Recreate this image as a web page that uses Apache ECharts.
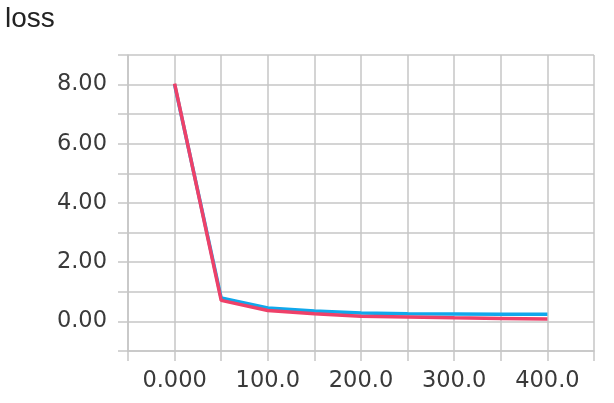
<!DOCTYPE html>
<html><head><meta charset="utf-8">
<script src="https://cdn.jsdelivr.net/npm/echarts@6/dist/echarts.min.js"></script>
<style>html,body{margin:0;padding:0;background:#fff}#c{width:614px;height:403px}</style>
</head><body><div id="c"></div>
<script>
const steps = [0, 50, 100, 150, 200, 250, 300, 350, 400];
const lossBlue = [8.00, 0.79, 0.45, 0.35, 0.28, 0.26, 0.25, 0.24, 0.24];
const lossRed  = [8.03, 0.71, 0.37, 0.26, 0.17, 0.15, 0.12, 0.10, 0.08];
const xTickValues = [0, 100, 200, 300, 400];
const xTickLabels = ['0.000', '100.0', '200.0', '300.0', '400.0'];
const yTickValues = [0, 2, 4, 6, 8];
const yTickLabels = ['0.00', '2.00', '4.00', '6.00', '8.00'];

const gridColor = '#c6c6c6';
const chart = echarts.init(document.getElementById('c'));
chart.setOption({
  animation: false,
  title: {text: 'loss', left: 0, top: 0, textStyle: {fontFamily: 'Liberation Sans', fontSize: 28, fontWeight: 'normal', color: '#222'}},
  grid: {left: 128, right: 20, top: 55, bottom: 52, containLabel: false},
  xAxis: {
    type: 'value', min: -50, max: 450, interval: 50,
    axisLine: {show: true, onZero: false, lineStyle: {color: gridColor, width: 1.5}},
    axisTick: {show: true, length: 10, lineStyle: {color: gridColor, width: 1.5}},
    splitLine: {show: true, lineStyle: {color: gridColor, width: 1.5}},
    axisLabel: {
      margin: 19, fontFamily: 'DejaVu Sans', fontSize: 22.5, color: '#3a3a3a',
      formatter: v => { const i = xTickValues.indexOf(v); return i >= 0 ? xTickLabels[i] : ''; }
    }
  },
  yAxis: {
    type: 'value', min: -1, max: 9, interval: 1,
    axisLine: {show: true, onZero: false, lineStyle: {color: gridColor, width: 1.5}},
    axisTick: {show: true, length: 10, lineStyle: {color: gridColor, width: 1.5}},
    splitLine: {show: true, lineStyle: {color: gridColor, width: 1.5}},
    axisLabel: {
      margin: 21, fontFamily: 'DejaVu Sans', fontSize: 22.5, color: '#3a3a3a',
      formatter: v => { const i = yTickValues.indexOf(v); return i >= 0 ? yTickLabels[i] : ''; }
    }
  },
  series: [
    {type: 'line', data: steps.map((s, i) => [s, lossBlue[i]]), showSymbol: false, symbol: 'none',
     lineStyle: {color: '#10a8ec', width: 3.5}, itemStyle: {color: '#10a8ec'}, z: 2},
    {type: 'line', data: steps.map((s, i) => [s, lossRed[i]]), showSymbol: false, symbol: 'none',
     lineStyle: {color: '#ee4169', width: 3.5}, itemStyle: {color: '#ee4169'}, z: 3}
  ]
});
</script></body></html>
